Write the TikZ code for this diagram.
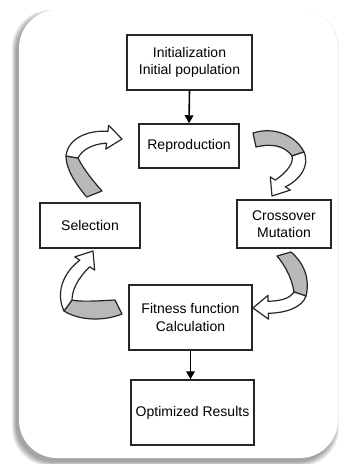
\documentclass[tikz,border=0pt]{standalone}
\usepackage{fontspec}
\setmainfont{Liberation Sans}
\usetikzlibrary{arrows.meta}
\begin{document}
\begin{tikzpicture}[x=0.75pt,y=-0.75pt,
  box/.style={draw=black!85,line width=1.1pt,fill=white,align=center,inner sep=1pt,
    font=\fontsize{10.5}{13}\selectfont},
  back/.style={draw=black!85,line width=0.9pt,fill=black!28,line join=round},
  front/.style={draw=black!85,line width=0.9pt,fill=white,line join=round},
  link/.style={draw=black,line width=1.2pt,-{Triangle[length=6pt,width=6.5pt]}}]
\useasboundingbox (0,0) rectangle (342,464);
% card shadow
\foreach \i in {0,...,5}
  \fill[black,opacity=0.07,rounded corners=28.5pt]
    ({16-(5-\i)*0.8},{14-(5-\i)*0.8}) rectangle ({335+(5-\i)*0.8},{462+(5-\i)*0.8});
% card
\fill[white,rounded corners=28.5pt] (19,10) rectangle (338,458);
% boxes
\node[box,minimum width=93.75pt,minimum height=41.25pt] (init) at (189.5,62.5) {Initialization\\Initial population};
\node[box,minimum width=75pt,minimum height=33pt] (rep) at (189,146) {Reproduction};
\node[box,minimum width=75pt,minimum height=33.75pt] (sel) at (90,225.5) {Selection};
\node[box,minimum width=70.5pt,minimum height=36pt] (cro) at (284,224) {Crossover\\Mutation};
\node[box,minimum width=92.25pt,minimum height=48.75pt] (fit) at (190.5,317.5) {Fitness function\\Calculation};
\node[box,minimum width=92.25pt,minimum height=48.75pt] (opt) at (192.5,412.5) {Optimized Results};
% straight links
\draw[link] (init.south) -- (rep.north);
\draw[link] (fit.south) -- (fit.south |- opt.north);
% curved arrow: Reproduction -> Crossover
\path[back] (253,133) .. controls (275,126) and (296,136) .. (304,152)
  -- (292,156) .. controls (285,146) and (272,143) .. (256,147) -- cycle;
\path[front] (304,152) .. controls (310,166) and (300,180) .. (285.3,186.8)
  -- (290.3,190.1) -- (272,196) -- (270.3,176.9) -- (275.3,180.2)
  .. controls (287,172) and (294,163) .. (292,156) -- cycle;
% curved arrow: Crossover -> Fitness
\path[back] (277,256) -- (291,252) .. controls (305,264) and (310,280) .. (306,296)
  -- (294,292) .. controls (292,280) and (287,268) .. (277,256) -- cycle;
\path[front] (306,296) .. controls (302,308) and (285,313) .. (268.3,313.3)
  -- (268.6,319.2) -- (253,308) -- (268,295.3) -- (268,301.3)
  .. controls (282,301) and (290,298) .. (294,292) -- cycle;
% curved arrow: Fitness -> Selection
\path[back] (115,300) .. controls (97,301) and (80,302) .. (72,300)
  -- (64,311) .. controls (78,320) and (102,322) .. (122,314) -- cycle;
\path[front] (64,311) .. controls (55,292) and (64,272) .. (79.8,260.2)
  -- (74.8,256.9) -- (93,251) -- (94.7,270.1) -- (89.7,266.8)
  .. controls (78,278) and (72,290) .. (72,300) -- cycle;
% curved arrow: Selection -> Reproduction
\path[back] (86.7,197) .. controls (74,182) and (66,168) .. (66,156)
  -- (78,158) .. controls (84,170) and (94,182) .. (102,191) -- cycle;
\path[front] (66,156) .. controls (68,138) and (88,130) .. (107.9,131.3)
  -- (108.6,125.3) -- (122,139) -- (105.8,149.1) -- (106.5,143.1)
  .. controls (92,144) and (82,150) .. (78,158) -- cycle;
\end{tikzpicture}
\end{document}
